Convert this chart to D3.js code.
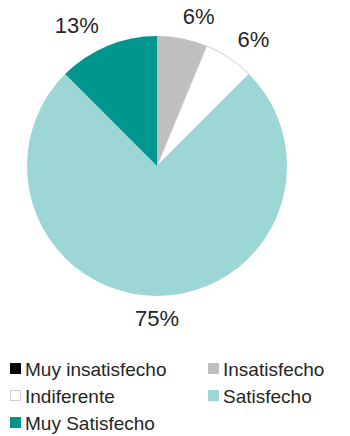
<!DOCTYPE html>
<html><head><meta charset="utf-8">
<script src="https://cdn.jsdelivr.net/npm/d3@7"></script>
<style>body{margin:0;background:#fff;} svg{display:block;}</style>
</head><body>
<svg id="chart" width="350" height="436"></svg>
<script>
const categories = ["Muy insatisfecho", "Insatisfecho", "Indiferente", "Satisfecho", "Muy Satisfecho"];
const counts = [0, 1, 1, 12, 2];
const labels = ["0%", "6%", "6%", "75%", "13%"];
const colors = ["#000000", "#BFBFBF", "#FFFFFF", "#9CD6D5", "#00968F"];
const strokes = ["none", "none", "#D0D0D0", "none", "none"];

const svg = d3.select("#chart");
const cx = 157, cy = 166, R = 130;
const textColor = "#262626";
const font = "'Liberation Sans', Arial, sans-serif";

const pie = d3.pie().sort(null).value(d => d)(counts);
const arc = d3.arc().innerRadius(0).outerRadius(R);
const labelArc = d3.arc().innerRadius(152).outerRadius(152);

const g = svg.append("g").attr("transform", `translate(${cx},${cy})`);
g.selectAll("path").data(pie).join("path")
  .attr("d", arc)
  .attr("fill", (d, i) => colors[i])
  .attr("stroke", (d, i) => strokes[i])
  .attr("stroke-width", 1);

g.selectAll("text.lbl").data(pie.filter(d => d.value > 0)).join("text")
  .attr("class", "lbl")
  .each(function(d) {
    const [x, y] = labelArc.centroid(d);
    const mid = (d.startAngle + d.endAngle) / 2;
    const s = Math.sin(mid);
    const anchor = Math.abs(s) < 0.1 ? "middle" : (s > 0 ? "start" : "end");
    d3.select(this).attr("x", s > 0.1 ? x - 4 : x).attr("y", y).attr("text-anchor", anchor);
  })
  .attr("dominant-baseline", "central")
  .attr("font-family", font)
  .attr("font-size", 22)
  .attr("fill", textColor)
  .text(d => labels[d.index]);

// Legend
const legendCols = [10, 208];
const legendBaselines = [376, 403, 430];
const lg = svg.append("g");
categories.forEach((c, i) => {
  const col = i % 2, row = Math.floor(i / 2);
  const x = legendCols[col], y = legendBaselines[row];
  lg.append("rect")
    .attr("x", x + 0.5).attr("y", y - 12.5)
    .attr("width", 10).attr("height", 10)
    .attr("fill", colors[i])
    .attr("stroke", i === 2 ? "#D0D0D0" : colors[i])
    .attr("stroke-width", 1);
  lg.append("text")
    .attr("x", x + 15).attr("y", y)
    .attr("font-family", font)
    .attr("font-size", 19)
    .attr("fill", textColor)
    .text(c);
});
</script>
</body></html>
